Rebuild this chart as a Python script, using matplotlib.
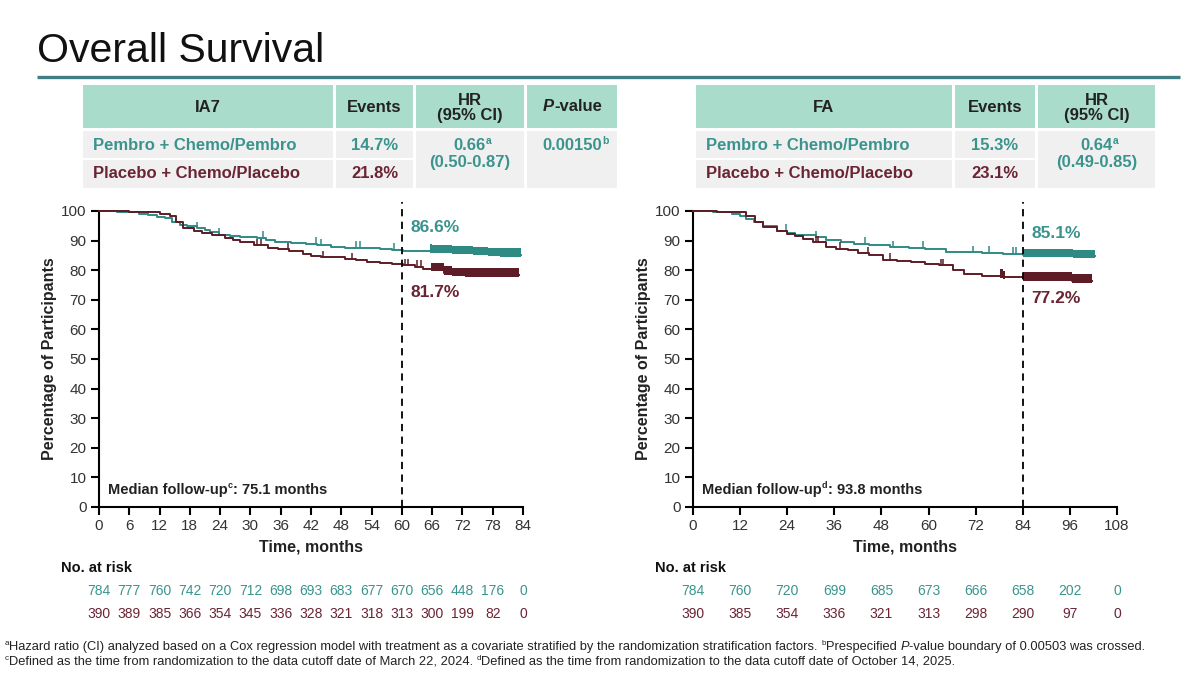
import numpy as np
import matplotlib
matplotlib.use('Agg')
import matplotlib.pyplot as plt
from matplotlib.patches import Rectangle
from matplotlib.transforms import blended_transform_factory

plt.rcParams['font.family'] = ['Liberation Sans', 'DejaVu Sans']

TEAL = '#3a948d'
TEAL_LINE = '#2f8a84'
MAROON = '#6a2434'
MAROON_LINE = '#5e1c26'
MINT = '#aadccb'
GRAY = '#f0f0f0'
INK = '#222222'

# ---- KM curves (months, % alive) ----
ia7_pem_t = [0, 3.5, 5.5, 8, 9.8, 11.5, 13, 14.5, 16, 17.5, 19.5, 21, 22, 23.7, 26, 27.9, 31.4, 33, 34.8,
             38, 41, 43.2, 46, 48.8, 52, 55.7, 58, 60.3, 66, 70, 74, 77, 79.4, 83.6]
ia7_pem_s = [100, 99.8, 99.5, 99.0, 98.6, 98.0, 97.5, 96.4, 95.3, 94.8, 94.2, 93.5, 93.0, 91.9, 91.6, 91.3,
             91.0, 90.3, 89.6, 89.2, 88.9, 88.5, 88.0, 87.6, 87.4, 87.1, 86.9, 86.6, 86.5, 86.2, 85.8, 85.5, 85.3, 85.0]
ia7_pla_t = [0, 6, 9, 12, 14, 15.3, 16.7, 18.8, 20.5, 22.3, 25, 26.5, 27.9, 30.7, 33.4, 35.5, 37.6, 40.4,
             42, 43.9, 48.8, 51, 53, 55.7, 58, 60.3, 62.7, 64.1, 68.3, 70, 72.5, 83.3]
ia7_pla_s = [100, 99.8, 99.5, 99.0, 98.4, 96.4, 94.2, 93.3, 92.6, 91.9, 91.0, 90.3, 89.6, 88.5, 87.4, 87.0,
             86.5, 85.4, 84.8, 84.3, 83.7, 83.3, 82.9, 82.3, 82.0, 81.7, 81.2, 80.5, 79.2, 78.8, 78.5, 78.5]
fa_pem_t = [0, 5, 9.9, 12, 13.4, 15.5, 17.9, 21.5, 24, 26, 31.4, 34, 37.6, 41, 44.8, 50.2, 55, 59.1, 64.5,
            69, 73.5, 78.9, 84, 90, 96.8, 102.4]
fa_pem_s = [100, 99.6, 99.1, 98.3, 97.4, 96.2, 95.1, 93.4, 92.5, 91.8, 91.2, 90.3, 89.5, 89.0, 88.6, 87.8,
            87.5, 87.2, 86.3, 86.1, 85.9, 85.5, 85.1, 85.0, 84.7, 84.7]
fa_pla_t = [0, 6, 9.5, 13.4, 15.7, 17.9, 21.5, 24, 26, 28, 30.5, 34, 36.5, 39.4, 42, 44.8, 48.4, 52, 55.6,
            59, 62.7, 66.3, 69, 73.5, 78.9, 84, 96.5, 101.6]
fa_pla_s = [100, 99.8, 99.5, 98.3, 96.3, 94.6, 93.1, 92.2, 91.5, 90.5, 89.5, 87.8, 87.2, 86.7, 85.8, 85.0,
            83.6, 83.2, 82.7, 82.2, 81.6, 80.2, 78.8, 78.2, 77.7, 77.2, 76.5, 76.5]

# censor marks (sparse) and stretches of dense censoring
ia7_pem_cens = [2.6, 9.8, 19.5, 23.7, 32.4, 43, 43.9, 50.9, 51.7, 58.5]
ia7_pla_cens = [31.4, 32, 37.5, 44.3, 50.2, 60.6, 61.2, 63, 63.8]
fa_pem_cens = [2.7, 9.9, 23.7, 31.4, 43.9, 50.9, 58.7, 71.2, 75.3, 81.5, 82.4]
fa_pla_cens = [31.4, 31.8, 37.5, 44.5, 50.2, 63.2, 63.6]
ia7_pem_dense = [(65.5, 83.6)]
ia7_pla_dense = [(65.8, 83.3)]
fa_pem_dense = [(84, 102.4)]
fa_pla_dense = [(78.2, 79.5), (84, 101.6)]

# ---- table values ----
arm_names = ['Pembro + Chemo/Pembro', 'Placebo + Chemo/Placebo']
ia7_events = ['14.7%', '21.8%']
ia7_hr, ia7_ci, ia7_p = '0.66', '(0.50-0.87)', '0.00150'
fa_events = ['15.3%', '23.1%']
fa_hr, fa_ci = '0.64', '(0.49-0.85)'

# ---- number at risk ----
ia7_risk_t = list(range(0, 85, 6))
ia7_risk_pem = [784, 777, 760, 742, 720, 712, 698, 693, 683, 677, 670, 656, 448, 176, 0]
ia7_risk_pla = [390, 389, 385, 366, 354, 345, 336, 328, 321, 318, 313, 300, 199, 82, 0]
fa_risk_t = list(range(0, 109, 12))
fa_risk_pem = [784, 760, 720, 699, 685, 673, 666, 658, 202, 0]
fa_risk_pla = [390, 385, 354, 336, 321, 313, 298, 290, 97, 0]


def surv_at(t, s, x):
    i = np.searchsorted(t, x, side='right') - 1
    return np.asarray(s)[i]


def chain(ax, x, y, pieces, ha='left', size=10, **base):
    # write consecutive text pieces on one baseline; ('a', {'sup': True}) is raised
    first = ax.text(x, y, pieces[0][0], ha=ha, va='baseline', fontsize=size, **{**base, **pieces[0][1]})
    prev = first
    for s, kw in pieces[1:]:
        opts = {**base, **kw}
        sup = opts.pop('sup', False)
        prev = ax.annotate(s, xy=(1, 0.5 if sup else 0), xycoords=(prev, first),
                           ha='left', va='bottom', fontsize=size * (0.62 if sup else 1), **opts)
    return first


fig = plt.figure(figsize=(12, 6.74), dpi=100)
fig.patch.set_facecolor('white')
bg = fig.add_axes([0, 0, 1, 1])
bg.set_xlim(0, 1200)
bg.set_ylim(674, 0)
bg.axis('off')

# title and rule
bg.text(37, 62, 'Overall Survival', fontsize=29.5, color='#111111', va='baseline')
bg.plot([37, 1180], [76.5, 76.5], color='#3f7f84', lw=2.4, solid_capstyle='butt')


def table(cols, title, events, hr, ci, pval=None):
    top, hb, r1, r2, r3 = 85, 128, 131, 158, 160
    bot = 188
    for j, (x0, x1) in enumerate(cols):
        bg.add_patch(Rectangle((x0, top), x1 - x0, hb - top, color=MINT, lw=0))
        if j < 2:
            bg.add_patch(Rectangle((x0, r1), x1 - x0, r2 - r1, color=GRAY, lw=0))
            bg.add_patch(Rectangle((x0, r3), x1 - x0, bot - r3, color=GRAY, lw=0))
        else:
            bg.add_patch(Rectangle((x0, r1), x1 - x0, bot - r1, color=GRAY, lw=0))
    cx = [(a + b) / 2 for a, b in cols]
    hsz = 12
    bg.text(cx[0], 107, title, ha='center', va='center', fontsize=hsz, weight='bold', color=INK)
    bg.text(cx[1], 107, 'Events', ha='center', va='center', fontsize=hsz, weight='bold', color=INK)
    bg.text(cx[2], 108, 'HR\n(95% CI)', ha='center', va='center', fontsize=hsz, weight='bold',
            color=INK, linespacing=1.0)
    if pval is not None:
        chain(bg, cx[3] - 29, 111, [('P', {'style': 'italic'}), ('-value', {})], size=hsz,
              weight='bold', color=INK)
    for k, (name, col) in enumerate(zip(arm_names, [TEAL, MAROON])):
        yy = 145 + 29 * k
        bg.text(cols[0][0] + 10, yy, name, va='center', fontsize=hsz, weight='bold', color=col)
        bg.text(cx[1], yy, events[k], ha='center', va='center', fontsize=hsz, weight='bold', color=col)
    chain(bg, cx[2], 150, [(hr, {}), ('a', {'sup': True})], ha='center', size=hsz, weight='bold', color=TEAL)
    bg.text(cx[2], 163, ci, ha='center', va='center', fontsize=hsz, weight='bold', color=TEAL)
    if pval is not None:
        chain(bg, cx[3], 150, [(pval, {}), ('b', {'sup': True})], ha='center', size=hsz,
              weight='bold', color=TEAL)


table([(83, 333), (336, 413), (416, 524), (527, 617)], 'IA7', ia7_events, ia7_hr, ia7_ci, ia7_p)
table([(696, 952), (955, 1035), (1038, 1155)], 'FA', fa_events, fa_hr, fa_ci)


def km_panel(rect, xmax, xstep, curves, cut, labels, follow, risk_t, risks):
    ax = fig.add_axes(rect)
    ax.set_xlim(0, xmax)
    ax.set_ylim(0, 100)
    ax.set_xticks(np.arange(0, xmax + 1, xstep))
    ax.set_yticks(np.arange(0, 101, 10))
    for sp in ['top', 'right']:
        ax.spines[sp].set_visible(False)
    for sp in ['left', 'bottom']:
        ax.spines[sp].set_linewidth(1.5)
    ax.tick_params(length=6, width=1.5, labelsize=11, labelcolor='#333333', pad=3)
    ax.patch.set_alpha(0)

    for t, s, cens, dense, col in curves:
        ax.step(t, s, where='post', color=col, lw=1.4, clip_on=False, zorder=3)
        cs = surv_at(t, s, cens)
        ax.vlines(cens, cs, cs + 2.2, color=col, lw=1.1, zorder=3)
        for a, b in dense:
            tt = [a] + [v for v in t if a < v < b] + [b]
            ss = surv_at(t, s, tt)
            ax.fill_between(tt, ss - 0.7, ss + 2.1, step='post', color=col, lw=0, zorder=3)

    ax.plot([cut, cut], [0, 103], color='black', lw=1.3, ls=(0, (4, 3)), clip_on=False, zorder=4)
    for txt, yv, col in labels:
        ax.text(cut + 0.02 * xmax, yv, txt, color=col, fontsize=12.5, weight='bold', va='center')

    chain(ax, 0.022 * xmax, 4.5, [(follow[0], {}), (follow[1], {'sup': True}), (follow[2], {})],
          size=10.5, weight='bold', color=INK, transform=ax.transData)
    ax.set_ylabel('Percentage of Participants', fontsize=11.5, weight='bold', color=INK, labelpad=3)
    ax.set_xlabel('Time, months', fontsize=11.5, weight='bold', color=INK, labelpad=4)

    tr = blended_transform_factory(ax.transData, fig.transFigure)
    ax.text(-0.09 * xmax, 1 - 568 / 674, 'No. at risk', transform=tr, fontsize=10.5,
            weight='bold', color='#111111', va='center')
    for k, (vals, col) in enumerate(zip(risks, [TEAL, MAROON])):
        for tv, n in zip(risk_t, vals):
            ax.text(tv, 1 - (591 + 23 * k) / 674, str(n), transform=tr, ha='center', va='center',
                    fontsize=10, color=col)
    return ax


km_panel([99 / 1200, 1 - 507 / 674, 424 / 1200, 296 / 674], 84, 6,
         [(ia7_pem_t, ia7_pem_s, ia7_pem_cens, ia7_pem_dense, TEAL_LINE),
          (ia7_pla_t, ia7_pla_s, ia7_pla_cens, ia7_pla_dense, MAROON_LINE)],
         60, [('86.6%', 94.5, TEAL), ('81.7%', 72.5, MAROON)],
         ('Median follow-up', 'c', ': 75.1 months'),
         ia7_risk_t, [ia7_risk_pem, ia7_risk_pla])

km_panel([693 / 1200, 1 - 507 / 674, 424 / 1200, 296 / 674], 108, 12,
         [(fa_pem_t, fa_pem_s, fa_pem_cens, fa_pem_dense, TEAL_LINE),
          (fa_pla_t, fa_pla_s, fa_pla_cens, fa_pla_dense, MAROON_LINE)],
         84, [('85.1%', 92.5, TEAL), ('77.2%', 70.5, MAROON)],
         ('Median follow-up', 'd', ': 93.8 months'),
         fa_risk_t, [fa_risk_pem, fa_risk_pla])

# footnotes
fn = dict(size=9.3, color='#222222', family=['Liberation Sans Narrow', 'Liberation Sans', 'DejaVu Sans'])
chain(bg, 1, 650, [(' ', {}), ('a', {'sup': True}),
                   ('Hazard ratio (CI) analyzed based on a Cox regression model with treatment as a covariate '
                    'stratified by the randomization stratification factors. ', {}),
                   ('b', {'sup': True}), ('Prespecified ', {}), ('P', {'style': 'italic'}),
                   ('-value boundary of 0.00503 was crossed.', {})], **fn)
chain(bg, 1, 665, [(' ', {}), ('c', {'sup': True}),
                   ('Defined as the time from randomization to the data cutoff date of March 22, 2024. ', {}),
                   ('d', {'sup': True}),
                   ('Defined as the time from randomization to the data cutoff date of October 14, 2025.', {})], **fn)

fig.savefig('out.png', dpi=100)
